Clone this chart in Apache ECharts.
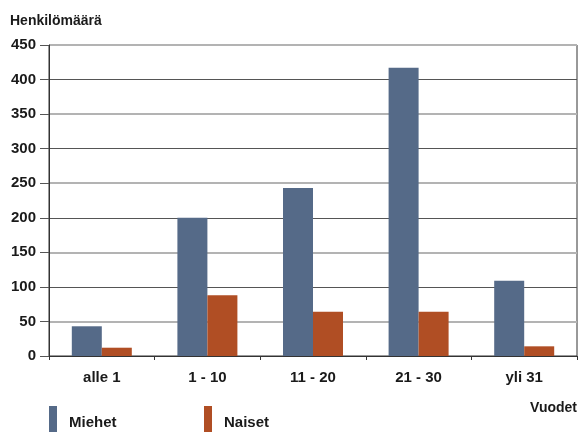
<!DOCTYPE html>
<html>
<head>
<meta charset="utf-8">
<script src="https://cdn.jsdelivr.net/npm/echarts@6/dist/echarts.min.js"></script>
<style>
html,body{margin:0;padding:0;background:#fff;}
#c{width:581px;height:432px;}
</style>
</head>
<body>
<div id="c"></div>
<script>
const categories = ['alle 1', '1 - 10', '11 - 20', '21 - 30', 'yli 31'];
const miehet = [43, 200, 243, 417, 109];
const naiset = [12, 88, 64, 64, 14];
const seriesNames = ['Miehet', 'Naiset'];
const yTitle = 'Henkilömäärä';
const xTitle = 'Vuodet';

const FONT = '"Liberation Sans", Arial, sans-serif';
const legendText = {
  fontSize: 15, fontWeight: 'bold', color: '#1a1a1a', fontFamily: FONT,
  rich: {a: {fontSize: 15, fontWeight: 'bold', color: '#1a1a1a', fontFamily: FONT, padding: [8, 0, 0, 7]}}
};
const chart = echarts.init(document.getElementById('c'), null, {renderer: 'canvas'});
chart.setOption({
  animation: false,
  backgroundColor: '#fff',
  textStyle: {fontFamily: FONT},
  title: [
    {text: yTitle, left: 10, top: 14, padding: 0,
     textStyle: {fontSize: 14, fontWeight: 'bold', color: '#1a1a1a', fontFamily: FONT}},
    {text: xTitle, right: 4, top: 401, padding: 0,
     textStyle: {fontSize: 14, fontWeight: 'bold', color: '#1a1a1a', fontFamily: FONT}}
  ],
  legend: [
    {data: [seriesNames[0]], left: 49, top: 406, padding: 0, icon: 'rect',
     itemWidth: 8, itemHeight: 26, formatter: '{a|{name}}', textStyle: legendText},
    {data: [seriesNames[1]], left: 204, top: 406, padding: 0, icon: 'rect',
     itemWidth: 8, itemHeight: 26, formatter: '{a|{name}}', textStyle: legendText}
  ],
  grid: {left: 49, right: 4, top: 45, bottom: 76, show: true, borderColor: '#333', borderWidth: 1, backgroundColor: 'transparent'},
  xAxis: {
    type: 'category', data: categories,
    axisLine: {lineStyle: {color: '#333', width: 1}},
    axisTick: {show: true, length: 4, lineStyle: {color: '#333'}},
    axisLabel: {margin: 14, fontSize: 15, fontWeight: 'bold', color: '#1a1a1a', fontFamily: FONT}
  },
  yAxis: [
    {
      type: 'value', min: 0, max: 450, interval: 50,
      axisLine: {show: true, lineStyle: {color: '#333'}},
      axisTick: {show: true, length: 9, lineStyle: {color: '#555'}},
      axisLabel: {margin: 13, fontSize: 15, fontWeight: 'bold', color: '#1a1a1a', fontFamily: FONT},
      splitLine: {show: true, lineStyle: {color: ['#555', 'rgba(0,0,0,0)'], width: 1}}
    },
    {
      type: 'value', min: 0, max: 450, interval: 50, position: 'left',
      axisLine: {show: false}, axisTick: {show: false}, axisLabel: {show: false},
      splitLine: {show: true, lineStyle: {color: ['rgba(0,0,0,0)', '#b3b3b3'], width: 2}}
    }
  ],
  series: [
    {name: seriesNames[0], type: 'bar', data: miehet, barWidth: 30, barGap: '0%',
     itemStyle: {color: '#556a88'}},
    {name: seriesNames[1], type: 'bar', data: naiset, barWidth: 30, barGap: '0%',
     itemStyle: {color: '#b04e24'}}
  ]
});
</script>
</body>
</html>
